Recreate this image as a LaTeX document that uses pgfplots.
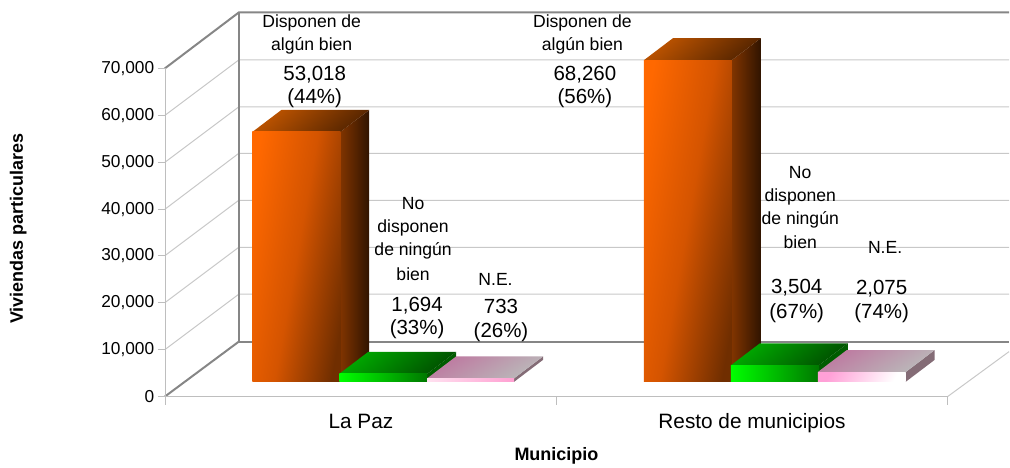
\documentclass[border=0pt]{standalone}
\usepackage{pgfplots}
\pgfplotsset{compat=1.18}
\usepackage{fontspec}
\setmainfont{Liberation Sans}
\definecolor{wall}{HTML}{868686}
\definecolor{gridc}{HTML}{C8C8C8}
\definecolor{axisc}{HTML}{BEBEBE}
\newcommand{\fs}[1]{\fontsize{#1}{#1}\selectfont}
\newcommand{\sm}[3]{\node[font=\fs{17.6}] at (#1,#2) {#3};}
\newcommand{\bg}[3]{\node[font=\fs{20.5}] at (#1,#2) {#3};}
\tikzset{
 ofront/.style={draw=none,shade,shading=axis,left color={rgb,255:red,255;green,104;blue,0},right color={rgb,255:red,112;green,46;blue,0},middle color={rgb,255:red,212;green,84;blue,0},shading angle=80},
 oside/.style={draw=none,left color={rgb,255:red,128;green,52;blue,0},right color={rgb,255:red,48;green,20;blue,0}},
 otop/.style={draw=none,shade,shading=axis,left color={rgb,255:red,190;green,84;blue,0},right color={rgb,255:red,84;green,36;blue,0},shading angle=40},
 gfront/.style={draw=none,left color={rgb,255:red,0;green,255;blue,0},right color={rgb,255:red,0;green,120;blue,0}},
 gside/.style={draw=none,fill={rgb,255:red,0;green,92;blue,0}},
 gtop/.style={draw=none,shade,shading=axis,left color={rgb,255:red,0;green,170;blue,0},right color={rgb,255:red,0;green,80;blue,0},shading angle=40},
 pfront/.style={draw=none,left color={rgb,255:red,255;green,225;blue,240},right color={rgb,255:red,255;green,160;blue,210}},
 pfrontb/.style={draw=none,shade,shading=axis,left color={rgb,255:red,255;green,160;blue,215},right color=white,shading angle=60},
 pside/.style={draw=none,fill={rgb,255:red,132;green,108;blue,118}},
 ptop/.style={draw=none,shade,shading=axis,left color={rgb,255:red,190;green,120;blue,160},right color={rgb,255:red,186;green,186;blue,186},shading angle=30},
}
\begin{document}
\begin{tikzpicture}[x=1pt,y=1pt]
\path (0,0) rectangle (1010,464);
% frame, in picture pixels (y downwards)
\begin{scope}[shift={(0,464)},y=-1pt]
 \foreach \a/\b in {115.5/60,162.5/107,209.5/153.5,256/200.5,303/247.5,350/294.5}{
   \draw[gridc,line width=1pt] (165,\a) -- (239,\b) -- (1010,\b);
 }
 \draw[wall,line width=2pt] (165,68.5) -- (239,12.5) -- (1010,12.5);
 \draw[wall,line width=2pt] (239,12.5) -- (239,342) -- (1010,342);
 \draw[wall,line width=2pt] (165,397) -- (239,342);
 \draw[gridc,line width=1pt] (948.5,397) -- (1010,352);
\end{scope}
% axis with ticks and titles
\begin{axis}[
  at={(165.5pt,67pt)},anchor=origin,scale only axis,width=783pt,height=328.5pt,
  xmin=0,xmax=2,ymin=0,ymax=70000,
  axis x line*=bottom,axis y line*=left,
  axis line style={axisc,line width=1.6pt,-},
  xtick={0.5,1.5},xticklabels={La Paz,Resto de municipios},
  minor xtick={0,1,2},
  major x tick style={draw=none},
  minor x tick style={draw=axisc,line width=1pt},
  minor tick length=8pt,
  ytick={0,10000,20000,30000,40000,50000,60000,70000},
  y tick style={draw=axisc,line width=1pt},
  major tick length=7pt,
  tick align=outside,
  scaled y ticks=false,
  /pgf/number format/.cd,1000 sep={,},assume math mode=true,
  /pgfplots/.cd,
  yticklabel style={font=\fs{17.3},inner sep=0pt,xshift=-4pt},
  xticklabel style={font=\fs{20.8},inner sep=0pt,yshift=-10pt},
  xlabel={Municipio},ylabel={Viviendas particulares},
  every axis x label/.style={at={(axis description cs:0.5,-0.18)},anchor=center,font=\bfseries\fs{18}},
  every axis y label/.style={at={(axis description cs:-0.188,0.512)},anchor=center,rotate=90,font=\bfseries\fs{18}},
]
\addplot[draw=none,forget plot] coordinates {(0,0)};
\end{axis}
% bars: x in picture pixels, y in dwellings
\begin{axis}[
  at={(0.6pt,81.8pt)},anchor=origin,scale only axis,width=1009pt,height=330.2pt,
  xmin=0,xmax=1009,ymin=0,ymax=70000,hide axis,clip=false,
]
% La Paz
\addplot[oside] coordinates {(340,0)(369,4664)(369,57682)(340,53018)} --cycle;
\addplot[otop] coordinates {(252,53018)(340,53018)(369,57682)(281,57682)} --cycle;
\addplot[ofront] coordinates {(252,0)(340,0)(340,53018)(252,53018)} --cycle;
\addplot[gside] coordinates {(427,0)(456,4664)(456,6358)(427,1694)} --cycle;
\addplot[gtop] coordinates {(339,1694)(427,1694)(456,6358)(368,6358)} --cycle;
\addplot[gfront] coordinates {(339,0)(427,0)(427,1694)(339,1694)} --cycle;
\addplot[pside] coordinates {(514,0)(543,4664)(543,5397)(514,733)} --cycle;
\addplot[ptop] coordinates {(427,733)(514,733)(543,5397)(456,5397)} --cycle;
\addplot[pfront] coordinates {(427,0)(514,0)(514,733)(427,733)} --cycle;
% Resto de municipios
\addplot[oside] coordinates {(732,0)(761,4664)(761,72924)(732,68260)} --cycle;
\addplot[otop] coordinates {(644,68260)(732,68260)(761,72924)(673,72924)} --cycle;
\addplot[ofront] coordinates {(644,0)(732,0)(732,68260)(644,68260)} --cycle;
\addplot[gside] coordinates {(819,0)(848,4664)(848,8168)(819,3504)} --cycle;
\addplot[gtop] coordinates {(731,3504)(819,3504)(848,8168)(760,8168)} --cycle;
\addplot[gfront] coordinates {(731,0)(819,0)(819,3504)(731,3504)} --cycle;
\addplot[pside] coordinates {(906,0)(935,4664)(935,6739)(906,2075)} --cycle;
\addplot[ptop] coordinates {(818,2075)(906,2075)(935,6739)(847,6739)} --cycle;
\addplot[pfrontb] coordinates {(818,0)(906,0)(906,2075)(818,2075)} --cycle;
\end{axis}
% data labels
\begin{scope}[shift={(0,464)},y=-1pt]
 \sm{312}{23}{Disponen de}\sm{312}{46}{algún bien}
 \bg{315}{74.5}{53,018}\bg{315}{98.5}{(44\%)}
 \sm{583}{23}{Disponen de}\sm{583}{46}{algún bien}
 \bg{585.5}{74.5}{68,260}\bg{585.5}{98.5}{(56\%)}
 \sm{413.5}{204}{No}\sm{413.5}{228}{disponen}\sm{413.5}{251}{de ningún}\sm{413.5}{274}{bien}
 \bg{417.5}{305.5}{1,694}\bg{417.5}{329.5}{(33\%)}
 \sm{496}{280}{N.E.}\bg{501.5}{306.5}{733}\bg{501.5}{332.5}{(26\%)}
 \sm{801}{173}{No}\sm{801}{197}{disponen}\sm{801}{220}{de ningún}\sm{801}{242}{bien}
 \bg{797.5}{287.5}{3,504}\bg{797.5}{313.5}{(67\%)}
 \sm{886}{248}{N.E.}\bg{882.5}{288.5}{2,075}\bg{882.5}{313.5}{(74\%)}
\end{scope}
\end{tikzpicture}
\end{document}
